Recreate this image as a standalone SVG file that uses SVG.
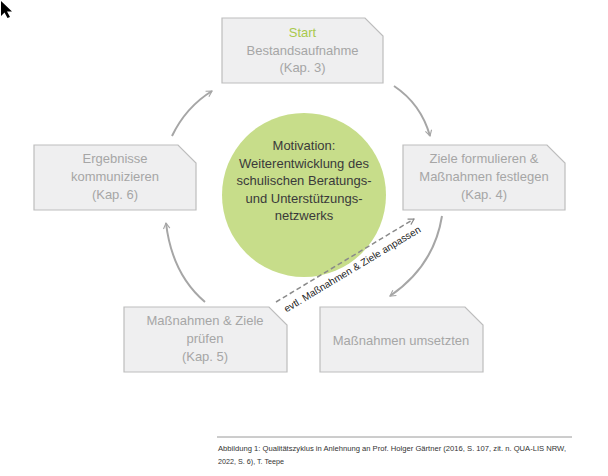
<svg xmlns="http://www.w3.org/2000/svg" width="608" height="476" viewBox="0 0 608 476">
<defs>
<style>
.box{fill:#efeff0;stroke:#bdbdbd;stroke-width:1.2}
.bt{font-family:"Liberation Sans",Arial,sans-serif;font-size:13px;fill:#a6a6a6;text-anchor:middle}
.ct{font-family:"Liberation Sans",Arial,sans-serif;font-size:13px;fill:#3a3a3a;text-anchor:middle}
.arr{fill:none;stroke:#a6a6a6;stroke-width:2}
.cap{font-family:"Liberation Sans",Arial,sans-serif;font-size:7.2px;fill:#333}
</style>
<marker id="ah" viewBox="0 0 10 10" refX="8" refY="5" markerWidth="8" markerHeight="8" orient="auto" markerUnits="userSpaceOnUse">
<path d="M1,1 L8,5 L1,9" fill="none" stroke="#a6a6a6" stroke-width="1.4"/>
</marker>
<marker id="ahd" viewBox="0 0 10 10" refX="8" refY="5" markerWidth="8" markerHeight="8" orient="auto" markerUnits="userSpaceOnUse">
<path d="M1,1 L8,5 L1,9" fill="none" stroke="#8a8a8a" stroke-width="1.4"/>
</marker>
</defs>
<rect width="608" height="476" fill="#fff"/>
<path d="M1,1 L1,16 L4.5,12.5 L7.5,18 L10,17 L7,11.5 L12,11.5 Z" fill="#000"/>

<g id="n-start">
<path class="box" d="M222,18 H365 L383,36 V83 H222 Z"/>
<text class="bt" x="302.5" y="36.5" style="fill:#a9c94d">Start</text>
<text class="bt" x="302.5" y="54.5">Bestandsaufnahme</text>
<text class="bt" x="302.5" y="72">(Kap. 3)</text>
</g>
<g id="n-ziele">
<path class="box" d="M403,145 H547 L565,163 V210 H403 Z"/>
<text class="bt" x="484" y="162.5">Ziele formulieren &amp;</text>
<text class="bt" x="484" y="180.5">Maßnahmen festlegen</text>
<text class="bt" x="484" y="198.5">(Kap. 4)</text>
</g>
<g id="n-umsetzen">
<path class="box" d="M320,307 H465 L483,325 V372 H320 Z"/>
<text class="bt" x="401" y="344.5">Maßnahmen umsetzten</text>
</g>
<g id="n-pruefen">
<path class="box" d="M124,307 H269 L287,325 V372 H124 Z"/>
<text class="bt" x="205" y="324.5">Maßnahmen &amp; Ziele</text>
<text class="bt" x="205" y="342.5">prüfen</text>
<text class="bt" x="205" y="360.5">(Kap. 5)</text>
</g>
<g id="n-ergebnisse">
<path class="box" d="M34,145 H178 L196,163 V210 H34 Z"/>
<text class="bt" x="115" y="162.5">Ergebnisse</text>
<text class="bt" x="115" y="180.5">kommunizieren</text>
<text class="bt" x="115" y="198.5">(Kap. 6)</text>
</g>
<g id="n-motivation">
<circle cx="304" cy="195" r="82" fill="#c7dd8a"/>
<text class="ct" x="304" y="150">Motivation:</text>
<text class="ct" x="304" y="167.5">Weiterentwicklung des</text>
<text class="ct" x="304" y="185">schulischen Beratungs-</text>
<text class="ct" x="304" y="202.5">und Unterstützungs-</text>
<text class="ct" x="304" y="220">netzwerks</text>
</g>

<g id="connectors">
<path class="arr" d="M394,86 Q421,104 430,136" marker-end="url(#ah)"/>
<path class="arr" d="M442,216 Q434,266 390,296" marker-end="url(#ah)"/>
<path class="arr" d="M205,302 Q172,274 166,223" marker-end="url(#ah)"/>
<path class="arr" d="M172,136 Q186,107 212,91" marker-end="url(#ah)"/>
<path d="M276,302 L414,219" fill="none" stroke="#8a8a8a" stroke-width="1.5" stroke-dasharray="5,3" marker-end="url(#ahd)"/>
<text x="354" y="272" transform="rotate(-31 354 272)" font-family="'Liberation Sans',Arial,sans-serif" font-size="10" fill="#222" text-anchor="middle">evtl. Maßnahmen &amp; Ziele anpassen</text>
</g>

<line x1="217" y1="437" x2="572" y2="437" stroke="#9a9a9a" stroke-width="1"/>
<text class="cap" x="218" y="451" textLength="348" lengthAdjust="spacingAndGlyphs">Abbildung 1: Qualitätszyklus in Anlehnung an Prof. Holger Gärtner (2016, S. 107, zit. n. QUA-LIS NRW,</text>
<text class="cap" x="218" y="464">2022, S. 6), T. Teepe</text>
</svg>
